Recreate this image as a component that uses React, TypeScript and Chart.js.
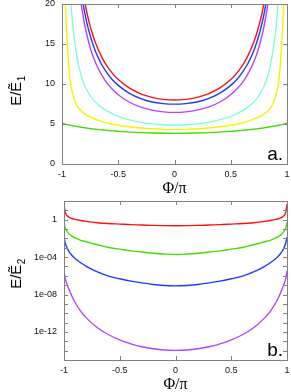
import React, { useEffect, useRef } from 'react';
import { Chart, registerables } from 'chart.js';

Chart.register(...registerables);

// ---------- panel a (linear) ----------
const phiTop = [-1, -0.98, -0.96, -0.94, -0.92, -0.9, -0.88, -0.86, -0.84, -0.82, -0.8, -0.78, -0.76, -0.74, -0.72, -0.7, -0.65, -0.6, -0.55, -0.5, -0.4, -0.3, -0.2, -0.1, 0, 0.1, 0.2, 0.3, 0.4, 0.5, 0.55, 0.6, 0.65, 0.7, 0.72, 0.74, 0.76, 0.78, 0.8, 0.82, 0.84, 0.86, 0.88, 0.9, 0.92, 0.94, 0.96, 0.98, 1];

const redTop = [null, null, null, null, null, null, null, null, null, 22.2, 20.5, 19.0, 17.8, 16.75, 15.84, 15.05, 13.45, 12.24, 11.3, 10.56, 9.48, 8.77, 8.33, 8.08, 8.0, 8.08, 8.33, 8.77, 9.48, 10.56, 11.3, 12.24, 13.45, 15.05, 15.84, 16.75, 17.8, 19.0, 20.5, 22.2, null, null, null, null, null, null, null, null, null];
const blueTop = [null, null, null, null, null, null, null, null, 22.7, 20.7, 19.06, 17.72, 16.57, 15.6, 14.75, 14.0, 12.5, 11.4, 10.5, 9.83, 8.83, 8.17, 7.75, 7.55, 7.48, 7.55, 7.75, 8.17, 8.83, 9.83, 10.5, 11.4, 12.5, 14.0, 14.75, 15.6, 16.57, 17.72, 19.06, 20.7, 22.7, null, null, null, null, null, null, null, null];
const purpleTop = [null, null, null, null, null, null, null, 23.5, 21.05, 19.1, 17.5, 16.2, 15.1, 14.1, 13.3, 12.6, 11.2, 10.1, 9.3, 8.66, 7.72, 7.11, 6.73, 6.52, 6.45, 6.52, 6.73, 7.11, 7.72, 8.66, 9.3, 10.1, 11.2, 12.6, 13.3, 14.1, 15.1, 16.2, 17.5, 19.1, 21.05, 23.5, null, null, null, null, null, null, null];
const cyanTop = [null, null, null, 24.9, 20.0, 16.7, 14.6, 12.9, 11.6, 10.6, 9.85, 9.28, 8.78, 8.36, 7.99, 7.7, 7.1, 6.63, 6.26, 5.95, 5.51, 5.21, 5.01, 4.9, 4.87, 4.9, 5.01, 5.21, 5.51, 5.95, 6.26, 6.63, 7.1, 7.7, 7.99, 8.36, 8.78, 9.28, 9.85, 10.6, 11.6, 12.9, 14.6, 16.7, 20.0, 24.9, null, null, null];
const yellowTop = [null, 23, 16.8, 12.3, 9.7, 8.55, 7.7, 7.15, 6.8, 6.53, 6.3, 6.12, 5.95, 5.82, 5.7, 5.58, 5.33, 5.12, 4.97, 4.85, 4.65, 4.5, 4.4, 4.33, 4.3, 4.33, 4.4, 4.5, 4.65, 4.85, 4.97, 5.12, 5.33, 5.58, 5.7, 5.82, 5.95, 6.12, 6.3, 6.53, 6.8, 7.15, 7.7, 8.55, 9.7, 12.3, 16.8, 23, null];
const greenTop = [5.1, 5.02, 4.95, 4.88, 4.82, 4.77, 4.72, 4.67, 4.63, 4.58, 4.53, 4.49, 4.45, 4.41, 4.38, 4.34, 4.27, 4.2, 4.14, 4.08, 3.99, 3.92, 3.87, 3.84, 3.83, 3.84, 3.87, 3.92, 3.99, 4.08, 4.14, 4.2, 4.27, 4.34, 4.38, 4.41, 4.45, 4.49, 4.53, 4.58, 4.63, 4.67, 4.72, 4.77, 4.82, 4.88, 4.95, 5.02, 5.1];

// ---------- panel b (logarithmic) ----------
const phiBot = [-1, -0.99, -0.98, -0.96, -0.93, -0.9, -0.85, -0.8, -0.7, -0.6, -0.5, -0.4, -0.3, -0.2, -0.1, 0, 0.1, 0.2, 0.3, 0.4, 0.5, 0.6, 0.7, 0.8, 0.85, 0.9, 0.93, 0.96, 0.98, 0.99, 1];

const redBot = [45, 7.1, 3.55, 2.0, 1.35, 1.07, 0.81, 0.66, 0.48, 0.39, 0.34, 0.295, 0.27, 0.245, 0.234, 0.229, 0.234, 0.245, 0.27, 0.295, 0.34, 0.39, 0.48, 0.66, 0.81, 1.07, 1.35, 2.0, 3.55, 7.1, 45];
const greenBot = [0.5, 0.141, 0.079, 0.0355, 0.0178, 0.0112, 0.0063, 0.00437, 0.00209, 0.00107, 7.1e-4, 4.7e-4, 3.5e-4, 2.6e-4, 2.14e-4, 1.9e-4, 2.14e-4, 2.6e-4, 3.5e-4, 4.7e-4, 7.1e-4, 0.00107, 0.00209, 0.00437, 0.0063, 0.0112, 0.0178, 0.0355, 0.079, 0.141, 0.5];
const blueBot = [0.0141, 0.00355, 0.00158, 5.0e-4, 1.58e-4, 7.1e-5, 2.5e-5, 1.05e-5, 2.6e-6, 9.3e-7, 4.8e-7, 2.75e-7, 1.74e-7, 1.17e-7, 9.3e-8, 8.5e-8, 9.3e-8, 1.17e-7, 1.74e-7, 2.75e-7, 4.8e-7, 9.3e-7, 2.6e-6, 1.05e-5, 2.5e-5, 7.1e-5, 1.58e-4, 5.0e-4, 0.00158, 0.00355, 0.0141];
const purpleBot = [3.5e-6, 6.3e-7, 2.2e-7, 5.0e-8, 7.1e-9, 1.4e-9, 1.6e-10, 3.2e-11, 2.8e-12, 5.0e-13, 1.4e-13, 5.4e-14, 2.6e-14, 1.6e-14, 1.17e-14, 1.07e-14, 1.17e-14, 1.6e-14, 2.6e-14, 5.4e-14, 1.4e-13, 5.0e-13, 2.8e-12, 3.2e-11, 1.6e-10, 1.4e-9, 7.1e-9, 5.0e-8, 2.2e-7, 6.3e-7, 3.5e-6];

// tick values / labels
const xTickValues = [-1, -0.5, 0, 0.5, 1];
const xTickLabels = ['-1', '-0.5', '0', '0.5', '1'];
const topYTickValues = [0, 5, 10, 15, 20];
const topYTickLabels = ['0', '5', '10', '15', '20'];
const botDecades = [1e-15, 1e-14, 1e-13, 1e-12, 1e-11, 1e-10, 1e-9, 1e-8, 1e-7, 1e-6, 1e-5, 1e-4, 1e-3, 1e-2, 1e-1, 1, 1e1, 1e2];
const botLabelValues = [1, 1e-4, 1e-8, 1e-12];
const botLabels = ['1', '1e-04', '1e-08', '1e-12'];

const COLORS = {
  red: '#ff1010',
  blue: '#1a3cff',
  purple: '#b044ff',
  cyan: '#7dffd8',
  yellow: '#f4f400',
  green: '#44dd00',
};

const TICK_FONT = { family: "'Liberation Sans', Arial, sans-serif", size: 9 };

function series(xs: number[], ys: (number | null)[], color: string) {
  return {
    data: xs.map((x, i) => ({ x, y: ys[i] })),
    borderColor: color,
    backgroundColor: color,
    borderWidth: 1.4,
    pointRadius: 0,
    fill: false,
    cubicInterpolationMode: 'monotone' as const,
    spanGaps: false,
  };
}

function labelFor(values: number[], labels: string[], v: number, log = false) {
  const idx = values.findIndex((t) =>
    log ? Math.abs(Math.log10(t) - Math.log10(v)) < 0.01 : Math.abs(t - v) < 1e-9
  );
  return idx >= 0 ? labels[idx] : '';
}

function makeDecor(cfg: { yMain: string; ySub: string; yCenter: number; letter: string }) {
  return {
    id: 'decor',
    afterDraw(chart: any) {
      const { ctx, chartArea: a } = chart;
      const xs = chart.scales.x;
      const ys = chart.scales.y;
      ctx.save();
      ctx.strokeStyle = '#808080';
      ctx.lineWidth = 1;
      ctx.strokeRect(a.left + 0.5, a.top + 0.5, a.right - a.left, a.bottom - a.top);
      const L = 4;
      ctx.beginPath();
      xs.ticks.forEach((t: any) => {
        const p = Math.round(xs.getPixelForValue(t.value)) + 0.5;
        ctx.moveTo(p, a.bottom);
        ctx.lineTo(p, a.bottom - L);
        ctx.moveTo(p, a.top);
        ctx.lineTo(p, a.top + L);
      });
      ys.ticks.forEach((t: any) => {
        const p = Math.round(ys.getPixelForValue(t.value)) + 0.5;
        ctx.moveTo(a.left, p);
        ctx.lineTo(a.left + L, p);
        ctx.moveTo(a.right, p);
        ctx.lineTo(a.right - L, p);
      });
      ctx.stroke();

      ctx.fillStyle = '#000';
      // x title
      ctx.font = "16px 'Liberation Serif', 'Times New Roman', serif";
      ctx.textAlign = 'center';
      ctx.textBaseline = 'middle';
      ctx.fillText('Φ/π', (a.left + a.right) / 2, a.bottom + 25);

      // y title (rotated, with subscript)
      ctx.save();
      ctx.translate(16, cfg.yCenter);
      ctx.rotate(-Math.PI / 2);
      ctx.textAlign = 'left';
      ctx.textBaseline = 'alphabetic';
      const mainFont = "15px 'Liberation Sans', Arial, sans-serif";
      const subFont = "10px 'Liberation Sans', Arial, sans-serif";
      ctx.font = mainFont;
      const wMain = ctx.measureText(cfg.yMain).width;
      ctx.font = subFont;
      const wSub = ctx.measureText(cfg.ySub).width;
      const start = -(wMain + wSub) / 2;
      ctx.font = mainFont;
      ctx.fillText(cfg.yMain, start, 5.4);
      ctx.font = subFont;
      ctx.fillText(cfg.ySub, start + wMain + 0.5, 8.6);
      ctx.restore();

      // panel letter
      ctx.font = "19px 'Liberation Sans', Arial, sans-serif";
      ctx.textAlign = 'right';
      ctx.textBaseline = 'alphabetic';
      ctx.fillText(cfg.letter, a.right - 4, a.bottom - 4);
      ctx.restore();
    },
  };
}

function xScale() {
  return {
    type: 'linear' as const,
    min: -1,
    max: 1,
    grid: { display: false, drawTicks: false },
    border: { display: false },
    afterBuildTicks: (s: any) => {
      s.ticks = xTickValues.map((v) => ({ value: v }));
    },
    ticks: {
      font: TICK_FONT,
      color: '#111',
      padding: 5,
      maxRotation: 0,
      autoSkip: false,
      callback: (value: any) => labelFor(xTickValues, xTickLabels, Number(value)),
    },
    afterFit: (s: any) => {
      s.height = 32;
      s.paddingLeft = 0;
      s.paddingRight = 0;
    },
  };
}

function TopChart() {
  const ref = useRef<HTMLCanvasElement>(null);
  useEffect(() => {
    const chart = new Chart(ref.current!, {
      type: 'line',
      data: {
        datasets: [
          series(phiTop, greenTop, COLORS.green),
          series(phiTop, yellowTop, COLORS.yellow),
          series(phiTop, cyanTop, COLORS.cyan),
          series(phiTop, purpleTop, COLORS.purple),
          series(phiTop, blueTop, COLORS.blue),
          series(phiTop, redTop, COLORS.red),
        ] as any,
      },
      options: {
        responsive: false,
        animation: false,
        layout: { padding: { top: 4, right: 4, left: 0, bottom: 0 } },
        plugins: { legend: { display: false }, tooltip: { enabled: false } },
        scales: {
          x: xScale(),
          y: {
            type: 'linear',
            min: 0,
            max: 20,
            grid: { display: false, drawTicks: false },
            border: { display: false },
            afterBuildTicks: (s: any) => {
              s.ticks = topYTickValues.map((v) => ({ value: v }));
            },
            ticks: {
              font: TICK_FONT,
              color: '#111',
              padding: 7,
              autoSkip: false,
              callback: (value: any) => labelFor(topYTickValues, topYTickLabels, Number(value)),
            },
            afterFit: (s: any) => {
              s.width = 62;
              s.paddingTop = 0;
              s.paddingBottom = 0;
            },
          },
        },
      } as any,
      plugins: [makeDecor({ yMain: 'E/Ẽ', ySub: '1', yCenter: 91, letter: 'a.' })],
    });
    return () => chart.destroy();
  }, []);
  return <canvas ref={ref} width={291} height={196} style={{ display: 'block' }} />;
}

function BottomChart() {
  const ref = useRef<HTMLCanvasElement>(null);
  useEffect(() => {
    const chart = new Chart(ref.current!, {
      type: 'line',
      data: {
        datasets: [
          series(phiBot, purpleBot, COLORS.purple),
          series(phiBot, blueBot, COLORS.blue),
          series(phiBot, greenBot, COLORS.green),
          series(phiBot, redBot, COLORS.red),
        ] as any,
      },
      options: {
        responsive: false,
        animation: false,
        layout: { padding: { top: 5, right: 4, left: 0, bottom: 0 } },
        plugins: { legend: { display: false }, tooltip: { enabled: false } },
        scales: {
          x: xScale(),
          y: {
            type: 'logarithmic',
            min: 1e-15,
            max: 1e2,
            grid: { display: false, drawTicks: false },
            border: { display: false },
            afterBuildTicks: (s: any) => {
              s.ticks = botDecades.map((v) => ({ value: v }));
            },
            ticks: {
              font: TICK_FONT,
              color: '#111',
              padding: 7,
              autoSkip: false,
              callback: (value: any) => labelFor(botLabelValues, botLabels, Number(value), true),
            },
            afterFit: (s: any) => {
              s.width = 64;
              s.paddingTop = 0;
              s.paddingBottom = 0;
            },
          },
        },
      } as any,
      plugins: [makeDecor({ yMain: 'E/Ẽ', ySub: '2', yCenter: 78, letter: 'b.' })],
    });
    return () => chart.destroy();
  }, []);
  return <canvas ref={ref} width={291} height={196} style={{ display: 'block' }} />;
}

export default function App() {
  return (
    <div style={{ position: 'absolute', left: 0, top: 0, width: 291, height: 392, background: '#fff' }}>
      <TopChart />
      <BottomChart />
    </div>
  );
}
